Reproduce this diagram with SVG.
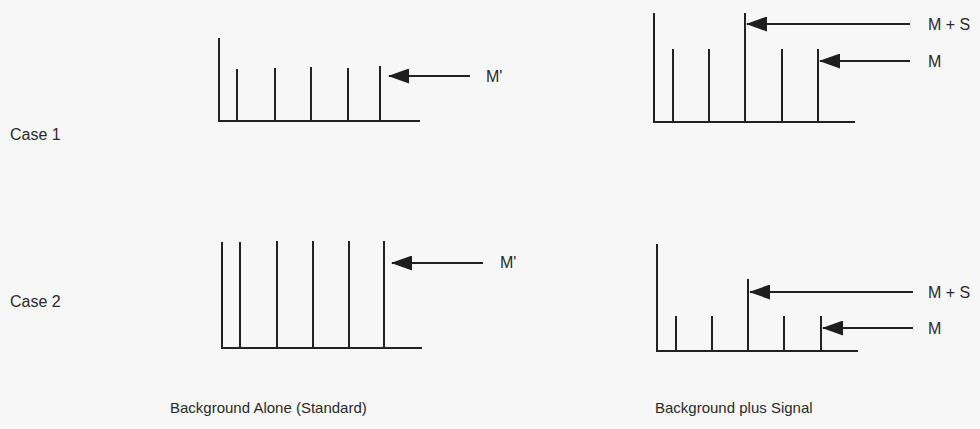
<svg xmlns="http://www.w3.org/2000/svg" width="980" height="429" viewBox="0 0 980 429">
  <defs>
    <marker id="head" viewBox="0 0 21 15" refX="20" refY="7.5" markerWidth="21" markerHeight="15" markerUnits="userSpaceOnUse" orient="auto">
      <path d="M0,0 L21,7.5 L0,15 z" fill="#1e1e1e"/>
    </marker>
    <style>
      .ax { stroke: #222; stroke-width: 2; fill: none; }
      .bar { stroke: #222; stroke-width: 2; fill: none; }
      .arr { stroke: #222; stroke-width: 2; fill: none; marker-end: url(#head); }
      .lbl { font-family: "Liberation Sans", Arial, sans-serif; font-size: 16px; fill: #2a2a2a; }
      .cap { font-family: "Liberation Sans", Arial, sans-serif; font-size: 15px; fill: #2a2a2a; }
    </style>
  </defs>
  <rect width="980" height="429" fill="#f7f7f7"/>

  <!-- row labels -->
  <text class="lbl" x="10" y="140">Case 1</text>
  <text class="lbl" x="10" y="307">Case 2</text>

  <!-- case 1, background alone -->
  <g id="case1-standard">
    <path class="ax" d="M219,38 V121 H420"/>
    <path class="bar" d="M237,121 V69 M275,121 V68 M311,121 V67 M348,121 V68 M380,121 V66"/>
    <text class="lbl" x="486" y="82">M'</text>
  </g>

  <!-- case 1, background plus signal -->
  <g id="case1-signal">
    <path class="ax" d="M654,13 V122 H855"/>
    <path class="bar" d="M673,122 V49 M709,122 V49 M745,122 V13 M782,122 V49 M818,122 V49"/>
    <text class="lbl" x="928" y="30">M + S</text>
    <text class="lbl" x="928" y="67">M</text>
  </g>

  <!-- case 2, background alone -->
  <g id="case2-standard">
    <path class="ax" d="M222,242 V348 H422"/>
    <path class="bar" d="M240,348 V242 M277,348 V241 M313,348 V241 M349,348 V241 M384,348 V241"/>
    <text class="lbl" x="500" y="268">M'</text>
  </g>

  <!-- case 2, background plus signal -->
  <g id="case2-signal">
    <path class="ax" d="M657,244 V351 H858"/>
    <path class="bar" d="M676,351 V316 M712,351 V316 M748,351 V279 M784,351 V316 M821,351 V316"/>
    <text class="lbl" x="928" y="298">M + S</text>
    <text class="lbl" x="928" y="334">M</text>
  </g>

  <!-- pointer arrows -->
  <g id="connectors">
    <line class="arr" x1="470" y1="76" x2="389" y2="76"/>
    <line class="arr" x1="910" y1="24" x2="747" y2="24"/>
    <line class="arr" x1="910" y1="61" x2="820" y2="61"/>
    <line class="arr" x1="483" y1="263" x2="392" y2="263"/>
    <line class="arr" x1="913" y1="292" x2="750" y2="292"/>
    <line class="arr" x1="913" y1="328" x2="823" y2="328"/>
  </g>

  <!-- column captions -->
  <text class="cap" x="170" y="413">Background Alone (Standard)</text>
  <text class="cap" x="655" y="413" font-size="14">Background plus Signal</text>
</svg>
